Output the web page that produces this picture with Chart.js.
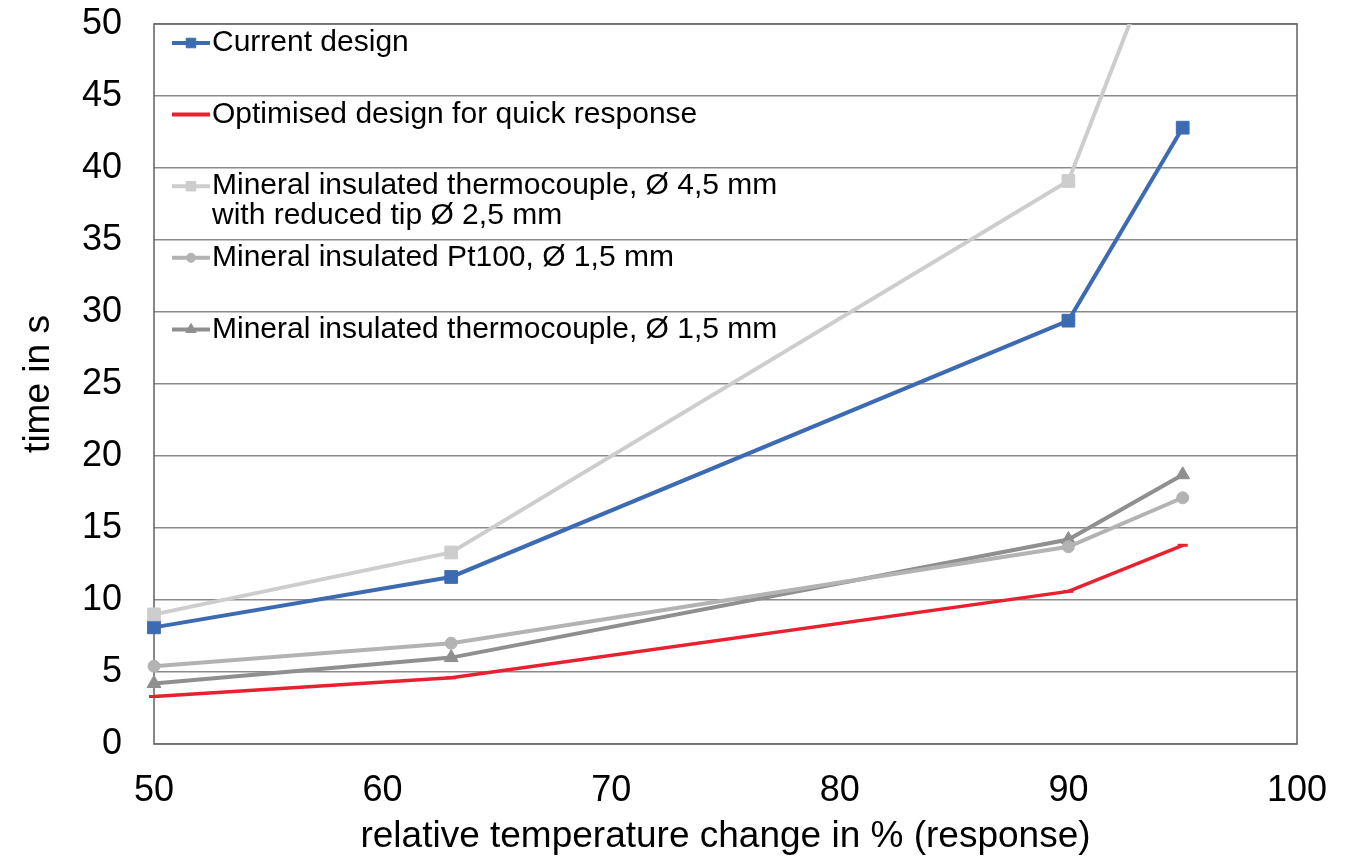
<!DOCTYPE html>
<html>
<head>
<meta charset="utf-8">
<title>Response time</title>
<script src="https://cdn.jsdelivr.net/npm/chart.js@4.4.1/dist/chart.umd.min.js"></script>
<style>
    html, body { margin: 0; padding: 0; background: #fff; }
    #wrap { width: 1358px; height: 861px; position: relative; }
</style>
</head>
<body>
<div id="wrap"><canvas id="responseChart"></canvas></div>
<script>
// relative temperature change in % (x) and time in s (y) per sensor
const responsePct = [50, 63, 90, 95];
const currentDesign = [8.1, 11.6, 29.4, 42.8];
const optimisedDesign = [3.3, 4.6, 10.6, 13.8];
const miThermo45 = [9.0, 13.3, 39.1, 59.5];
const miPt100 = [5.4, 7.0, 13.7, 17.1];
const miThermo15 = [4.2, 6.0, 14.2, 18.7];

const seriesLabels = [
    "Current design",
    "Optimised design for quick response",
    "Mineral insulated thermocouple, Ø 4,5 mm\nwith reduced tip Ø 2,5 mm",
    "Mineral insulated Pt100, Ø 1,5 mm",
    "Mineral insulated thermocouple, Ø 1,5 mm"
];
const xTickValues = [50, 60, 70, 80, 90, 100];
const yTickValues = [0, 5, 10, 15, 20, 25, 30, 35, 40, 45, 50];

const FONT = "'Liberation Sans', Arial, Helvetica, sans-serif";

function toPoints(ys) {
    return ys.map((y, i) => ({ x: responsePct[i], y: y }));
}

function makeSet(label, ys, color, style, radius, width) {
    return {
        label: label,
        data: toPoints(ys),
        borderColor: color,
        backgroundColor: color,
        borderWidth: width || 4,
        pointStyle: style,
        pointRadius: radius,
        pointBorderWidth: style === "line" ? 3 : 1,
        pointBorderColor: color,
        pointBackgroundColor: color,
        tension: 0,
        clip: { left: 20, right: 20, top: 0, bottom: 20 }
    };
}

const datasets = [
    makeSet(seriesLabels[2], miThermo45, "#cdcdcd", "rect", 9),
    makeSet(seriesLabels[3], miPt100, "#b3b3b3", "circle", 6),
    makeSet(seriesLabels[4], miThermo15, "#8f8f8f", "triangle", 8),
    makeSet(seriesLabels[1], optimisedDesign, "#e8202f", "line", 5, 3.5),
    makeSet(seriesLabels[0], currentDesign, "#3d6bb3", "rect", 9)
];

// order in which entries are listed in the legend box
const legendOrder = [4, 3, 0, 1, 2];

// frame around the plotting area
const frameBox = {
    id: "frameBox",
    beforeDatasetsDraw(chart) {
        const { ctx, chartArea: a } = chart;
        ctx.save();
        ctx.strokeStyle = "#6a6a6a";
        ctx.lineWidth = 1.6;
        ctx.strokeRect(a.left, a.top, a.right - a.left, a.bottom - a.top);
        ctx.restore();
    }
};

// legend drawn inside the plot, top left, one row per grid step
const innerLegend = {
    id: "innerLegend",
    afterDatasetsDraw(chart) {
        const { ctx, chartArea: a } = chart;
        const step = 71.6;
        ctx.save();
        ctx.font = "30px " + FONT;
        ctx.textBaseline = "middle";
        ctx.fillStyle = "#000";
        legendOrder.forEach((di, row) => {
            const ds = chart.data.datasets[di];
            const y = a.top + 19 + row * step;
            const x0 = a.left + 18;
            const x1 = a.left + 56;
            ctx.strokeStyle = ds.borderColor;
            ctx.lineWidth = 4;
            ctx.beginPath();
            ctx.moveTo(x0, y);
            ctx.lineTo(x1, y);
            ctx.stroke();
            if (ds.pointStyle !== "line") {
                ctx.fillStyle = ds.borderColor;
                ctx.strokeStyle = ds.borderColor;
                ctx.lineWidth = 1;
                Chart.helpers.drawPoint(ctx, { pointStyle: ds.pointStyle, radius: ds.pointRadius * 0.75, rotation: 0, borderWidth: 1 }, (x0 + x1) / 2, y);
            }
            ctx.fillStyle = "#000";
            ds.label.split("\n").forEach((line, k) => {
                ctx.fillText(line, x1 + 2, y + k * 30);
            });
        });
        ctx.restore();
    }
};

new Chart(document.getElementById("responseChart"), {
    type: "line",
    data: { datasets: datasets },
    options: {
        responsive: true,
        maintainAspectRatio: false,
        animation: false,
        layout: { padding: { top: 24, right: 61, left: 0, bottom: 0 } },
        plugins: {
            legend: { display: false },
            tooltip: { enabled: false }
        },
        scales: {
            x: {
                type: "linear",
                min: 50,
                max: 100,
                afterFit: (scale) => { scale.height = 117; },
                afterBuildTicks: (scale) => { scale.ticks = xTickValues.map(v => ({ value: v })); },
                ticks: { color: "#000", font: { family: FONT, size: 36 }, padding: 25, maxRotation: 0 },
                grid: { display: false, drawTicks: false },
                border: { display: false },
                title: {
                    display: true,
                    text: "relative temperature change in % (response)",
                    color: "#000",
                    font: { family: FONT, size: 37 },
                    padding: { top: 0, bottom: 2 }
                }
            },
            y: {
                min: 0,
                max: 50,
                afterFit: (scale) => {
                    scale.width = 154;
                    scale.paddingTop = 0;
                    scale.paddingBottom = 0;
                },
                afterBuildTicks: (scale) => { scale.ticks = yTickValues.map(v => ({ value: v })); },
                ticks: { color: "#000", font: { family: FONT, size: 36 }, padding: 32 },
                grid: { color: "#8a8a8a", lineWidth: 1.4, drawTicks: false },
                border: { display: false },
                title: {
                    display: true,
                    text: "time in s",
                    color: "#000",
                    font: { family: FONT, size: 37 },
                    padding: { top: 17, bottom: 0 }
                }
            }
        }
    },
    plugins: [frameBox, innerLegend]
});
</script>
</body>
</html>
